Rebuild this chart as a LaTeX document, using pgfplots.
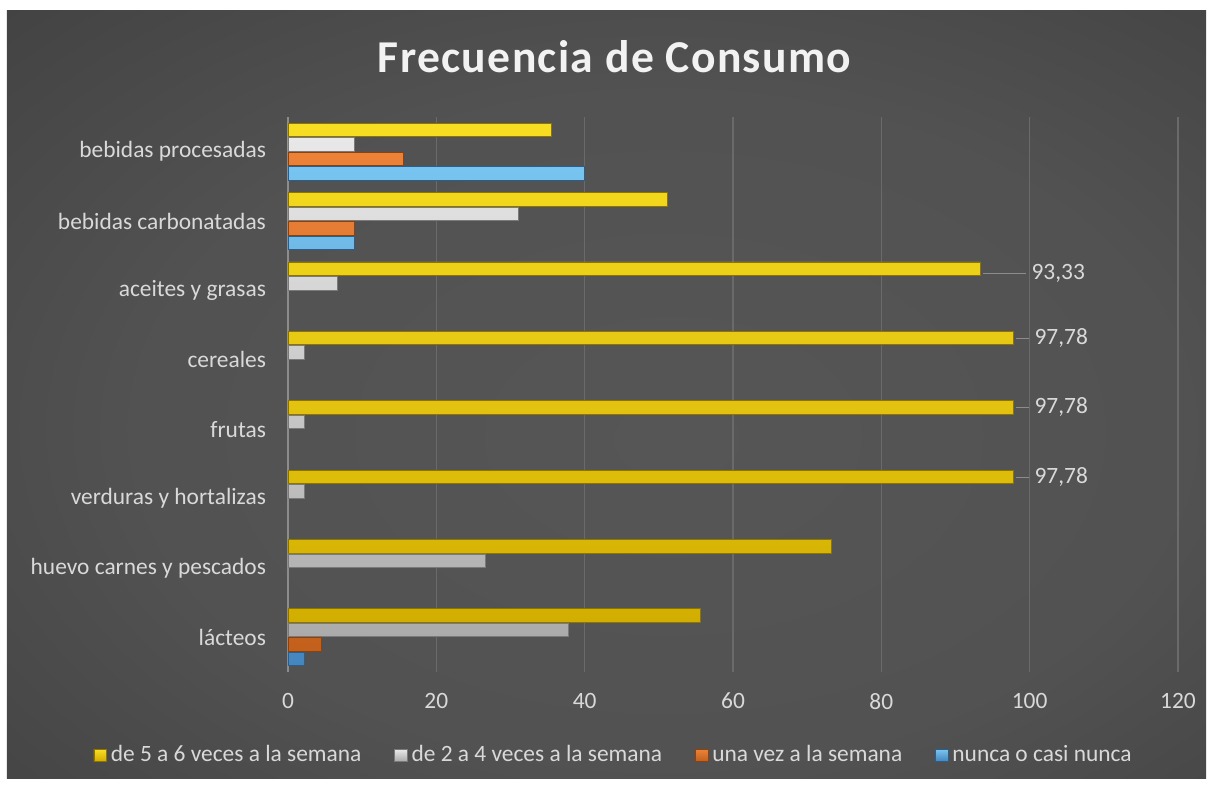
\documentclass[border=0pt]{standalone}
\usepackage{pgfplots}
\pgfplotsset{compat=1.18}
\usepackage{fontspec}
\setmainfont{Carlito}

\definecolor{txt}{HTML}{D9D9D9}
\definecolor{gridc}{HTML}{6A6A6A}
\definecolor{axc}{HTML}{8C8C8C}
\definecolor{bgin}{HTML}{565656}
\definecolor{bgmid}{HTML}{3A3A3A}
\definecolor{bgout}{HTML}{262626}
% bar colours
\definecolor{ytop}{HTML}{F8DE22}
\definecolor{ymid}{HTML}{FFF666}
\definecolor{ybot}{HTML}{D2AE00}
\definecolor{yedge}{HTML}{8E7400}
\definecolor{gtop}{HTML}{E8E8E8}
\definecolor{gmid}{HTML}{FFFFFF}
\definecolor{gbot}{HTML}{ABABAB}
\definecolor{gedge}{HTML}{7A7A7A}
\definecolor{otop}{HTML}{EC8238}
\definecolor{omid}{HTML}{FFB878}
\definecolor{obot}{HTML}{C2601C}
\definecolor{oedge}{HTML}{8A4210}
\definecolor{btop}{HTML}{78C4F0}
\definecolor{bmid}{HTML}{C4F0FF}
\definecolor{bbot}{HTML}{4686BE}
\definecolor{bedge}{HTML}{2C5E8C}

\pgfdeclareradialshading{bgshade}{\pgfpoint{3bp}{-3bp}}{color(0bp)=(bgin); color(22bp)=(bgin!85!bgmid); color(48bp)=(bgmid); color(72bp)=(bgout); color(100bp)=(bgout)}

\begin{document}
\begin{tikzpicture}
\fill[white] (-144pt,-57.5pt) rectangle (463pt,336pt);
\shade[shading=bgshade] (-140.5pt,-53pt) rectangle (459pt,330.5pt);
\begin{axis}[
    scale only axis,
    width=445pt, height=277.5pt,
    xmin=0, xmax=120,
    ymin=-0.5, ymax=7.5,
    xbar, bar width=0.195,
    xtick={0,20,...,120},
    ytick={0,...,7},
    yticklabels={lácteos, huevo carnes y pescados, verduras y hortalizas, frutas, cereales, aceites y grasas, bebidas carbonatadas, bebidas procesadas},
    axis x line*=bottom, axis y line*=left,
    x axis line style={draw=none},
    y axis line style={-, draw=axc, line width=0.8pt},
    xmajorgrids, grid style={draw=gridc, line width=0.6pt},
    major tick length=0pt,
    /pgf/number format/assume math mode=true,
    tick label style={font=\fontsize{11.7}{13}\selectfont, text=txt},
    xticklabel style={yshift=-7pt},
    yticklabel style={xshift=-7.5pt},
    title={\addfontfeature{LetterSpace=3}Frecuencia de Consumo},
    title style={at={(0.367,1.087)}, anchor=center, font=\fontsize{22.8}{26}\bfseries, text=white!95!black},
    legend style={at={(0.367,-0.15)}, anchor=center, draw=none, fill=none, text=txt,
        font=\fontsize{11.7}{13}\selectfont, legend columns=4,
        /tikz/every even column/.append style={column sep=14.5pt}},
    legend image code/.code={\draw[#1] (0pt,-2.9pt) rectangle (6.2pt,2.9pt);},
    nodes near coords style={anchor=west, text=txt, font=\fontsize{11.7}{13}\selectfont, inner sep=1pt},
]
\addplot[bar shift=0.313, draw=yedge, top color=ytop, middle color=ymid, bottom color=ybot]
    coordinates {(55.56,0) (73.33,1) (97.78,2) (97.78,3) (97.78,4) (93.33,5) (51.11,6) (35.56,7)};
\addlegendentry{de 5 a 6 veces a la semana}
\addplot[bar shift=0.104, draw=gedge, top color=gtop, middle color=gmid, bottom color=gbot]
    coordinates {(37.78,0) (26.67,1) (2.22,2) (2.22,3) (2.22,4) (6.67,5) (31.11,6) (8.89,7)};
\addlegendentry{de 2 a 4 veces a la semana}
\addplot[bar shift=-0.104, draw=oedge, top color=otop, middle color=omid, bottom color=obot]
    coordinates {(4.44,0) (8.89,6) (15.56,7)};
\addlegendentry{una vez a la semana}
\addplot[bar shift=-0.313, draw=bedge, top color=btop, middle color=bmid, bottom color=bbot]
    coordinates {(2.22,0) (8.89,6) (40,7)};
\addlegendentry{nunca o casi nunca}
% data labels on the long yellow bars
\addplot[bar shift=0.313, draw=none, fill=none, forget plot, point meta=x,
    nodes near coords={\textcolor{axc}{\rule[0.5ex]{6.5pt}{0.6pt}}\hspace{3pt}\pgfmathprintnumber[fixed,fixed zerofill,precision=2,use comma]{\pgfplotspointmeta}}]
    coordinates {(97.78,2) (97.78,3) (97.78,4)};
\addplot[bar shift=0.313, draw=none, fill=none, forget plot, point meta=x,
    every node near coord/.append style={yshift=-2.5pt},
    nodes near coords={\textcolor{axc}{\rule[0.5ex]{21.5pt}{0.6pt}}\hspace{3pt}\pgfmathprintnumber[fixed,fixed zerofill,precision=2,use comma]{\pgfplotspointmeta}}]
    coordinates {(93.33,5)};
\end{axis}
\end{tikzpicture}
\end{document}
